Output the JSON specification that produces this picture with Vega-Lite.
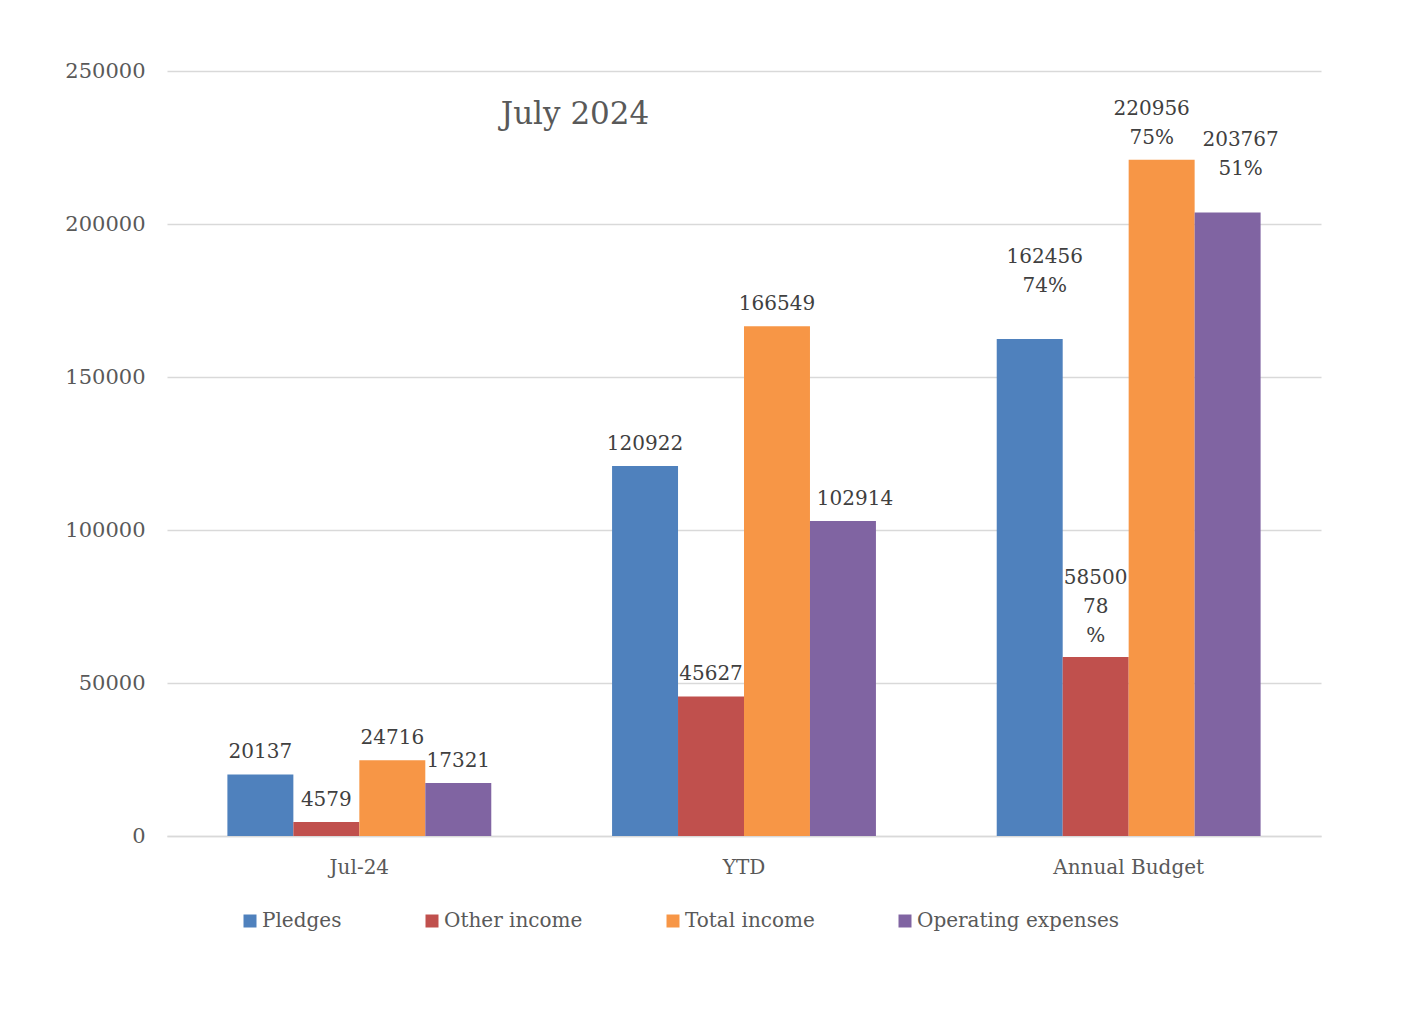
{
  "$schema": "https://vega.github.io/schema/vega-lite/v6.json",
  "width": 1154,
  "height": 765,
  "autosize": {"type": "none"},
  "padding": {"left": 167, "top": 71, "right": 88, "bottom": 179},
  "background": "white",
  "title": {
    "text": "July 2024",
    "font": "DejaVu Serif",
    "fontSize": 31,
    "fontWeight": "normal",
    "color": "#595959",
    "anchor": "middle",
    "orient": "top",
    "offset": 0,
    "baseline": "alphabetic",
    "dx": -169,
    "dy": 95
  },
  "config": {"view": {"stroke": null}, "font": "DejaVu Serif"},
  "data": {
    "values": [
      {"period": "Jul-24", "series": "Pledges", "value": 20137, "label": "20137"},
      {"period": "Jul-24", "series": "Other income", "value": 4579, "label": "4579"},
      {"period": "Jul-24", "series": "Total income", "value": 24716, "label": "24716"},
      {"period": "Jul-24", "series": "Operating expenses", "value": 17321, "label": "17321"},
      {"period": "YTD", "series": "Pledges", "value": 120922, "label": "120922"},
      {"period": "YTD", "series": "Other income", "value": 45627, "label": "45627"},
      {"period": "YTD", "series": "Total income", "value": 166549, "label": "166549"},
      {"period": "YTD", "series": "Operating expenses", "value": 102914, "label": "102914"},
      {"period": "Annual Budget", "series": "Pledges", "value": 162456, "label": "162456\n74%"},
      {"period": "Annual Budget", "series": "Other income", "value": 58500, "label": "58500\n78\n%"},
      {"period": "Annual Budget", "series": "Total income", "value": 220956, "label": "220956\n75%"},
      {"period": "Annual Budget", "series": "Operating expenses", "value": 203767, "label": "203767\n51%"}
    ]
  },
  "encoding": {
    "x": {
      "field": "period",
      "type": "nominal",
      "sort": ["Jul-24", "YTD", "Annual Budget"],
      "scale": {"paddingInner": 0.314, "paddingOuter": 0.157},
      "axis": {
        "title": null,
        "labelAngle": 0,
        "ticks": false,
        "grid": false,
        "domainColor": "#d9d9d9",
        "domainWidth": 1.3,
        "labelFont": "DejaVu Serif",
        "labelFontSize": 20,
        "labelColor": "#595959",
        "labelPadding": 21
      }
    },
    "xOffset": {
      "field": "series",
      "type": "nominal",
      "sort": ["Pledges", "Other income", "Total income", "Operating expenses"],
      "scale": {"paddingInner": 0, "paddingOuter": 0}
    },
    "y": {
      "field": "value",
      "type": "quantitative",
      "scale": {"domain": [0, 250000], "nice": false},
      "axis": {
        "title": null,
        "values": [0, 50000, 100000, 150000, 200000, 250000],
        "format": "d",
        "ticks": false,
        "domain": false,
        "gridColor": "#d9d9d9",
        "gridWidth": 1.3,
        "labelFont": "DejaVu Serif",
        "labelFontSize": 21,
        "labelColor": "#595959",
        "labelPadding": 22
      }
    }
  },
  "layer": [
    {
      "mark": {"type": "bar"},
      "encoding": {
        "color": {
          "field": "series",
          "type": "nominal",
          "sort": ["Pledges", "Other income", "Total income", "Operating expenses"],
          "scale": {
            "domain": ["Pledges", "Other income", "Total income", "Operating expenses"],
            "range": ["#4F81BD", "#C0504D", "#F79646", "#8064A2"]
          },
          "legend": {
            "orient": "none",
            "legendX": 73,
            "legendY": 840,
            "direction": "horizontal",
            "columns": 4,
            "title": null,
            "symbolType": "square",
            "symbolSize": 169,
            "symbolStrokeWidth": 0,
            "labelFont": "DejaVu Serif",
            "labelFontSize": 20,
            "labelColor": "#595959",
            "labelOffset": 2,
            "labelLimit": 400,
            "columnPadding": 80,
            "padding": 0
          }
        }
      }
    },
    {
      "transform": [
        {"filter": "datum.period != 'Annual Budget' && !(datum.period == 'YTD' && datum.series == 'Operating expenses')"}
      ],
      "mark": {"type": "text", "baseline": "bottom", "dy": -12, "lineBreak": "\n", "lineHeight": 29, "fontSize": 20, "color": "#404040", "font": "DejaVu Serif"},
      "encoding": {"text": {"field": "label"}}
    },
    {
      "transform": [
        {"filter": "datum.period == 'YTD' && datum.series == 'Operating expenses'"}
      ],
      "mark": {"type": "text", "baseline": "bottom", "dy": -12, "dx": 12, "lineBreak": "\n", "lineHeight": 29, "fontSize": 20, "color": "#404040", "font": "DejaVu Serif"},
      "encoding": {"text": {"field": "label"}}
    },
    {
      "transform": [
        {"filter": "datum.period == 'Annual Budget' && datum.series == 'Other income'"}
      ],
      "mark": {"type": "text", "baseline": "bottom", "dy": -69, "lineBreak": "\n", "lineHeight": 29, "fontSize": 20, "color": "#404040", "font": "DejaVu Serif"},
      "encoding": {"text": {"field": "label"}}
    },
    {
      "transform": [
        {"filter": "datum.period == 'Annual Budget' && datum.series == 'Total income'"}
      ],
      "mark": {"type": "text", "baseline": "bottom", "dy": -41, "dx": -10, "lineBreak": "\n", "lineHeight": 29, "fontSize": 20, "color": "#404040", "font": "DejaVu Serif"},
      "encoding": {"text": {"field": "label"}}
    },
    {
      "transform": [
        {"filter": "datum.period == 'Annual Budget' && datum.series == 'Pledges'"}
      ],
      "mark": {"type": "text", "baseline": "bottom", "dy": -72, "dx": 15, "lineBreak": "\n", "lineHeight": 29, "fontSize": 20, "color": "#404040", "font": "DejaVu Serif"},
      "encoding": {"text": {"field": "label"}}
    },
    {
      "transform": [
        {"filter": "datum.period == 'Annual Budget' && datum.series == 'Operating expenses'"}
      ],
      "mark": {"type": "text", "baseline": "bottom", "dy": -62, "dx": 13, "lineBreak": "\n", "lineHeight": 29, "fontSize": 20, "color": "#404040", "font": "DejaVu Serif"},
      "encoding": {"text": {"field": "label"}}
    }
  ]
}
